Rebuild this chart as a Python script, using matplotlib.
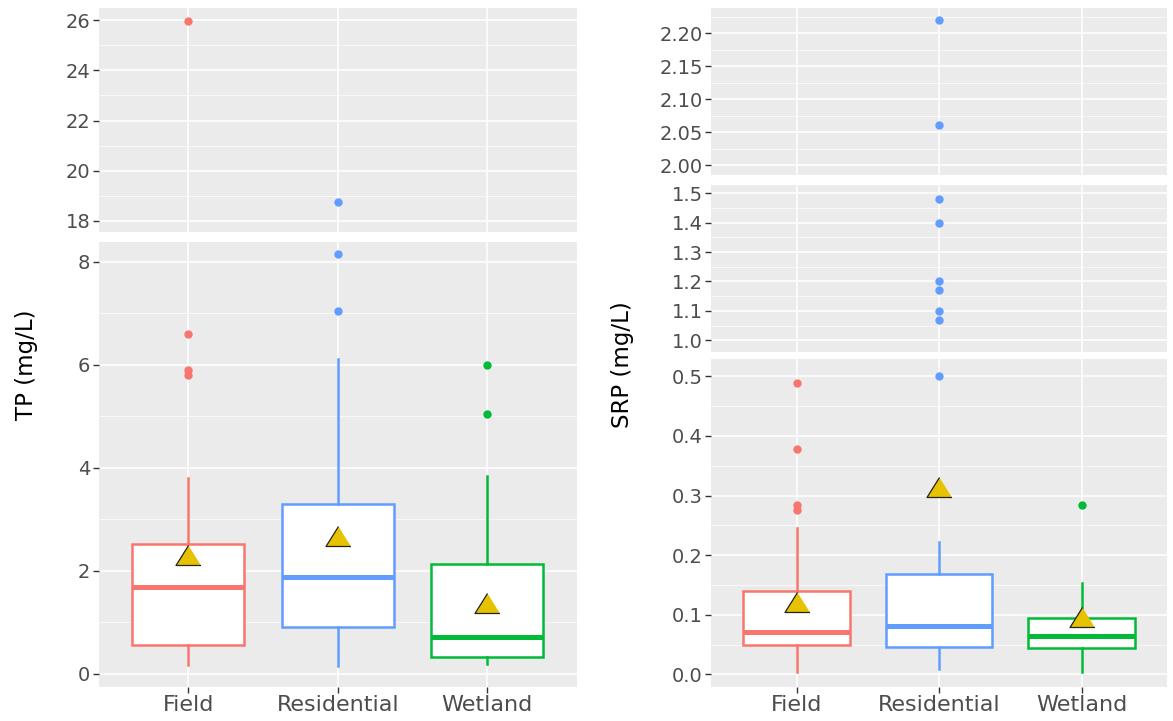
import matplotlib
matplotlib.use('Agg')
import matplotlib.pyplot as plt
import numpy as np

plt.rcParams['font.family'] = ['DejaVu Sans']

# ---- data ----
categories = ['Field', 'Residential', 'Wetland']
colors = ['#F8766D', '#619CFF', '#00BA38']

tp_q1 = [0.55, 0.90, 0.33]
tp_med = [1.68, 1.88, 0.72]
tp_q3 = [2.51, 3.30, 2.12]
tp_lo = [0.17, 0.14, 0.18]
tp_hi = [3.80, 6.10, 3.84]
tp_mean = [2.30, 2.68, 1.37]
tp_out = [[5.80, 5.90, 6.60, 25.95], [7.05, 8.15, 18.75], [5.05, 6.00]]

srp_q1 = [0.049, 0.046, 0.045]
srp_med = [0.071, 0.082, 0.064]
srp_q3 = [0.140, 0.168, 0.095]
srp_lo = [0.004, 0.010, 0.004]
srp_hi = [0.245, 0.222, 0.153]
srp_mean = [0.122, 0.315, 0.096]
srp_out = [[0.276, 0.284, 0.378, 0.489],
           [0.50, 1.07, 1.10, 1.17, 1.20, 1.40, 1.48, 2.06, 2.22],
           [0.285]]


def make_stats(q1, med, q3, lo, hi, mean, out):
    stats = []
    for i, name in enumerate(categories):
        stats.append({'label': name, 'q1': q1[i], 'med': med[i], 'q3': q3[i],
                      'whislo': lo[i], 'whishi': hi[i], 'mean': mean[i],
                      'fliers': np.array(out[i])})
    return stats


tp_stats = make_stats(tp_q1, tp_med, tp_q3, tp_lo, tp_hi, tp_mean, tp_out)
srp_stats = make_stats(srp_q1, srp_med, srp_q3, srp_lo, srp_hi, srp_mean, srp_out)

W, H = 1173, 721
fig = plt.figure(figsize=(W / 100, H / 100), dpi=100)


def px_axes(x0, x1, y0, y1):
    # pixel box (top-left origin) -> figure axes
    return fig.add_axes([x0 / W, (H - y1) / H, (x1 - x0) / W, (y1 - y0) / H])


tri = [(0, 1), (-1.25, -1), (1.25, -1)]


def draw_section(ax, stats, ylim, major, minor, fmt, show_x):
    ax.set_facecolor('#EBEBEB')
    for s in ax.spines.values():
        s.set_visible(False)
    positions = [1, 2, 3]
    for i, st in enumerate(stats):
        c = colors[i]
        ax.bxp([st], positions=[positions[i]], widths=0.75, showcaps=False,
               showmeans=True, patch_artist=True,
               boxprops=dict(facecolor='white', edgecolor=c, linewidth=1.8),
               whiskerprops=dict(color=c, linewidth=1.8),
               medianprops=dict(color=c, linewidth=3.6, solid_capstyle='butt'),
               flierprops=dict(marker='o', markerfacecolor=c, markeredgecolor=c,
                               markersize=5),
               meanprops=dict(marker=tri, markerfacecolor='#E6C200',
                              markeredgecolor='#222222', markeredgewidth=0.9,
                              markersize=18),
               zorder=3)
    ax.set_xlim(0.4, 3.6)
    ax.set_ylim(*ylim)
    ax.set_yticks(major)
    ax.set_yticklabels([fmt.format(v) for v in major])
    ax.set_yticks(minor, minor=True)
    ax.set_xticks(positions)
    ax.grid(True, which='major', color='white', linewidth=1.1, zorder=0)
    ax.grid(True, which='minor', axis='y', color='white', linewidth=0.5, zorder=0)
    ax.set_axisbelow(True)
    ax.tick_params(axis='y', which='major', length=4, width=1, color='#333333',
                   labelsize=14, labelcolor='#4D4D4D', pad=2)
    ax.tick_params(axis='y', which='minor', length=0)
    if show_x:
        ax.set_xticklabels(categories)
        ax.tick_params(axis='x', length=4, width=1, color='#333333',
                       labelsize=16, labelcolor='#4D4D4D', pad=2)
    else:
        ax.tick_params(axis='x', length=0, labelbottom=False)


# ---- left panel: TP ----
ax_tp_top = px_axes(98.5, 577, 8, 232)
ax_tp_bot = px_axes(98.5, 577, 242, 687)
draw_section(ax_tp_top, tp_stats, (17.56, 26.48), [18, 20, 22, 24, 26],
             [19, 21, 23, 25], '{:g}', False)
draw_section(ax_tp_bot, tp_stats, (-0.26, 8.38), [0, 2, 4, 6, 8],
             [1, 3, 5, 7], '{:g}', True)

# ---- right panel: SRP ----
ax_s1 = px_axes(711, 1167, 8, 175)
ax_s2 = px_axes(711, 1167, 185, 352)
ax_s3 = px_axes(711, 1167, 359, 687)
draw_section(ax_s1, srp_stats, (1.985, 2.238), [2.00, 2.05, 2.10, 2.15, 2.20],
             [2.025, 2.075, 2.125, 2.175, 2.225], '{:.2f}', False)
draw_section(ax_s2, srp_stats, (0.96, 1.528), [1.0, 1.1, 1.2, 1.3, 1.4, 1.5],
             [1.05, 1.15, 1.25, 1.35, 1.45], '{:.1f}', False)
draw_section(ax_s3, srp_stats, (-0.021, 0.529), [0.0, 0.1, 0.2, 0.3, 0.4, 0.5],
             [0.05, 0.15, 0.25, 0.35, 0.45], '{:.1f}', True)

fig.text(26 / W, (H - 365) / H, 'TP (mg/L)', rotation=90, ha='center',
         va='center', fontsize=16.5, color='black')
fig.text(623 / W, (H - 365) / H, 'SRP (mg/L)', rotation=90, ha='center',
         va='center', fontsize=16.5, color='black')

fig.savefig('out.png', dpi=100)
